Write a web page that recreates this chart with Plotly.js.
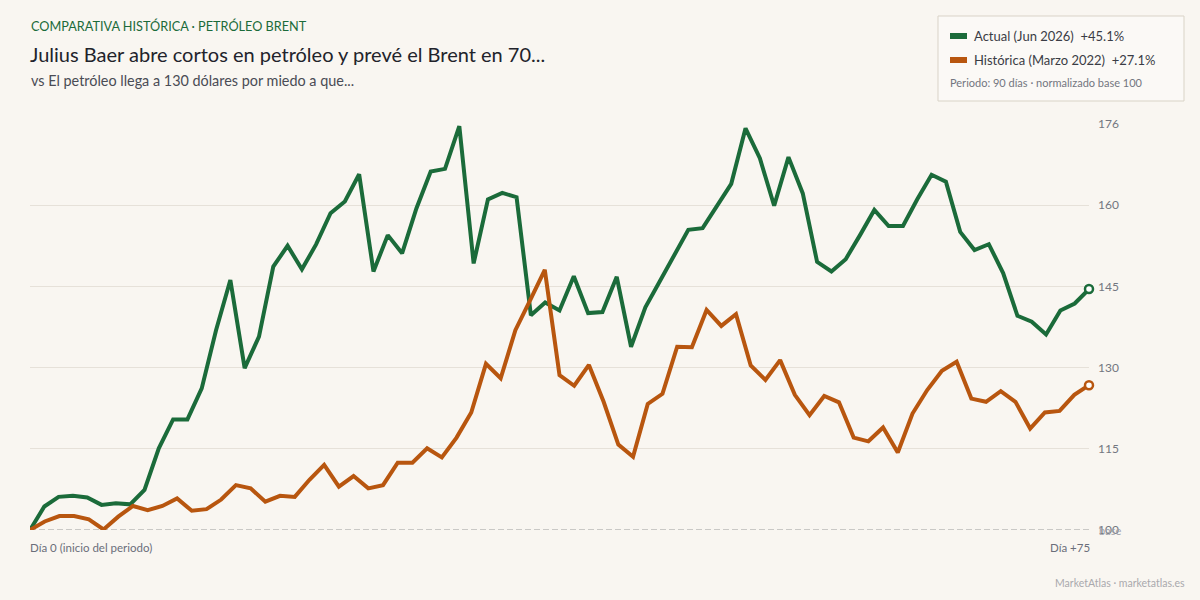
<!DOCTYPE html>
<html><head><meta charset="utf-8">
<script src="https://cdn.plot.ly/plotly-3.0.1.min.js"></script>
<style>html,body{margin:0;padding:0;background:#f9f6f1;}#chart{width:1200px;height:600px;}</style>
</head><body><div id="chart"></div>
<script>
// Actual (Jun 2026), normalized base 100, one value per session
const actualValues = [100,104.4,106.2,106.4,106.1,104.7,105.0,104.8,107.5,115.3,
 120.7,120.7,126.5,137.4,146.8,130.3,136.2,149.3,153.2,148.8,
 153.5,159.3,161.5,166.6,148.4,155.2,151.8,160.2,167.1,167.6,
 175.6,149.9,161.9,163.1,162.3,140.2,142.6,141.1,147.5,140.6,
 140.8,147.4,134.3,141.7,146.5,151.5,156.2,156.5,160.8,164.8,
 175.2,169.6,160.7,169.8,163.0,150.2,148.4,150.7,155.2,159.9,
 156.9,156.9,161.9,166.5,165.2,155.8,152.4,153.5,148.1,140.1,
 139.0,136.6,141.1,142.4,145.1];
// Histórica (Marzo 2022), normalized base 100
const historicValues = [100,101.6,102.6,102.6,102.0,100.1,102.5,104.5,103.7,104.5,
 105.9,103.6,103.9,105.7,108.4,107.8,105.3,106.4,106.2,109.4,
 112.2,108.1,110.1,107.8,108.4,112.6,112.6,115.3,113.6,117.3,
 122.0,131.1,128.4,137.4,143.0,148.7,129.0,127.0,130.9,124.0,
 116.0,113.7,123.6,125.5,134.3,134.2,141.2,138.2,140.4,130.8,
 128.1,131.8,125.3,121.5,125.1,123.9,117.3,116.6,119.2,114.5,
 121.8,126.2,129.8,131.5,124.6,124.0,126.0,124.0,119.0,122.0,
 122.3,125.3,127.1];
const seriesNames = ["Actual (Jun 2026)", "Histórica (Marzo 2022)"];
const seriesChanges = ["+45.1%", "+27.1%"];
const yTickVals = [100, 115.2, 130.4, 145.6, 160.8, 176];
const yTickText = ["100", "115", "130", "145", "160", "176"];
const xLabelStart = "Día 0 (inicio del periodo)";
const xLabelEnd = "Día +75";

const GREEN = "#1b6b3a", ORANGE = "#b8560f";
const xA = actualValues.map((_, i) => i);
const xH = historicValues.map((_, i) => i);

const traces = [
  {x: xH, y: historicValues, xaxis: "x2", yaxis: "y", mode: "lines", line: {color: ORANGE, width: 4}, hoverinfo: "skip", showlegend: false},
  {x: xA, y: actualValues, xaxis: "x", yaxis: "y", mode: "lines", line: {color: GREEN, width: 4}, hoverinfo: "skip", showlegend: false},
  {x: [xH[xH.length-1]], y: [historicValues[historicValues.length-1]], xaxis: "x2", yaxis: "y", mode: "markers",
   marker: {color: "#ffffff", size: 8, line: {color: ORANGE, width: 2.5}}, hoverinfo: "skip", showlegend: false, cliponaxis: false},
  {x: [xA[xA.length-1]], y: [actualValues[actualValues.length-1]], xaxis: "x", yaxis: "y", mode: "markers",
   marker: {color: "#ffffff", size: 8, line: {color: GREEN, width: 2.5}}, hoverinfo: "skip", showlegend: false, cliponaxis: false}
];

const font = "Lato, 'Open Sans', sans-serif";
const W = 1059, H = 406, L = 30, B = 530;
const px = v => (v - L) / W;
const py = v => (B - v) / H;
const layout = {
  width: 1200, height: 600,
  paper_bgcolor: "#f9f6f1", plot_bgcolor: "#f9f6f1",
  margin: {l: 30, r: 111, t: 124, b: 70},
  font: {family: font},
  xaxis: {range: [0, actualValues.length-1], visible: false, showgrid: false, zeroline: false, fixedrange: true},
  xaxis2: {range: [0, historicValues.length-1], overlaying: "x", visible: false, showgrid: false, zeroline: false},
  yaxis: {range: [100, 176], side: "right", tickvals: yTickVals, ticktext: yTickText,
    showgrid: true, gridcolor: "#e6e1d9", gridwidth: 1, zeroline: false, showline: false, ticks: "",
    ticklabelstandoff: 8, tickfont: {family: font, size: 12, color: "#737680"}},
  shapes: [
    {type: "line", xref: "paper", yref: "y", x0: 0, x1: 1, y0: 100, y1: 100,
     line: {color: "#9c9c9c", width: 1.2, dash: "6px,3px"}, layer: "below"},
    {type: "rect", xref: "paper", yref: "paper", x0: px(938), x1: px(1184), y0: py(101), y1: py(16),
     line: {color: "#d9d3c7", width: 1}, fillcolor: "#fbf9f6"},
    {type: "rect", xref: "paper", yref: "paper", x0: px(950), x1: px(967), y0: py(39), y1: py(33),
     line: {width: 0}, fillcolor: GREEN},
    {type: "rect", xref: "paper", yref: "paper", x0: px(950), x1: px(967), y0: py(63), y1: py(57),
     line: {width: 0}, fillcolor: ORANGE}
  ],
  annotations: [
    {xref: "paper", yref: "paper", x: px(29), y: py(26), xanchor: "left", yanchor: "middle", showarrow: false,
     text: "COMPARATIVA HISTÓRICA · PETRÓLEO BRENT", font: {family: font, size: 12.7, color: GREEN}},
    {xref: "paper", yref: "paper", x: px(28), y: py(54), xanchor: "left", yanchor: "middle", showarrow: false,
     text: "Julius Baer abre cortos en petróleo y prevé el Brent en 70...", font: {family: font, size: 20, color: "#22232b"}},
    {xref: "paper", yref: "paper", x: px(29), y: py(81), xanchor: "left", yanchor: "middle", showarrow: false,
     text: "vs El petróleo llega a 130 dólares por miedo a que...", font: {family: font, size: 14.4, color: "#4a4c55"}},
    {xref: "paper", yref: "paper", x: px(972), y: py(36), xanchor: "left", yanchor: "middle", showarrow: false,
     text: seriesNames[0] + "  " + seriesChanges[0], font: {family: font, size: 13, color: "#3a3c45"}},
    {xref: "paper", yref: "paper", x: px(972), y: py(60), xanchor: "left", yanchor: "middle", showarrow: false,
     text: seriesNames[1] + "  " + seriesChanges[1], font: {family: font, size: 13, color: "#3a3c45"}},
    {xref: "paper", yref: "paper", x: px(948), y: py(82), xanchor: "left", yanchor: "middle", showarrow: false,
     text: "Periodo: 90 días · normalizado base 100", font: {family: font, size: 11, color: "#737680"}},
    {xref: "paper", yref: "paper", x: px(28), y: py(547), xanchor: "left", yanchor: "middle", showarrow: false,
     text: xLabelStart, font: {family: font, size: 11.5, color: "#6b6e7a"}},
    {xref: "paper", yref: "paper", x: px(1092), y: py(547), xanchor: "right", yanchor: "middle", showarrow: false,
     text: xLabelEnd, font: {family: font, size: 11.5, color: "#6b6e7a"}},
    {xref: "paper", yref: "y", x: px(1097), y: 100, xanchor: "left", yanchor: "middle", showarrow: false,
     text: "base", font: {family: font, size: 11, color: "#a0a2aa"}},
    {xref: "paper", yref: "paper", x: px(1187), y: py(583), xanchor: "right", yanchor: "middle", showarrow: false,
     text: "MarketAtlas · marketatlas.es", font: {family: font, size: 10.5, color: "#a9a9ad"}}
  ]
};

Plotly.newPlot("chart", traces, layout, {staticPlot: true, displayModeBar: false});
</script></body></html>
